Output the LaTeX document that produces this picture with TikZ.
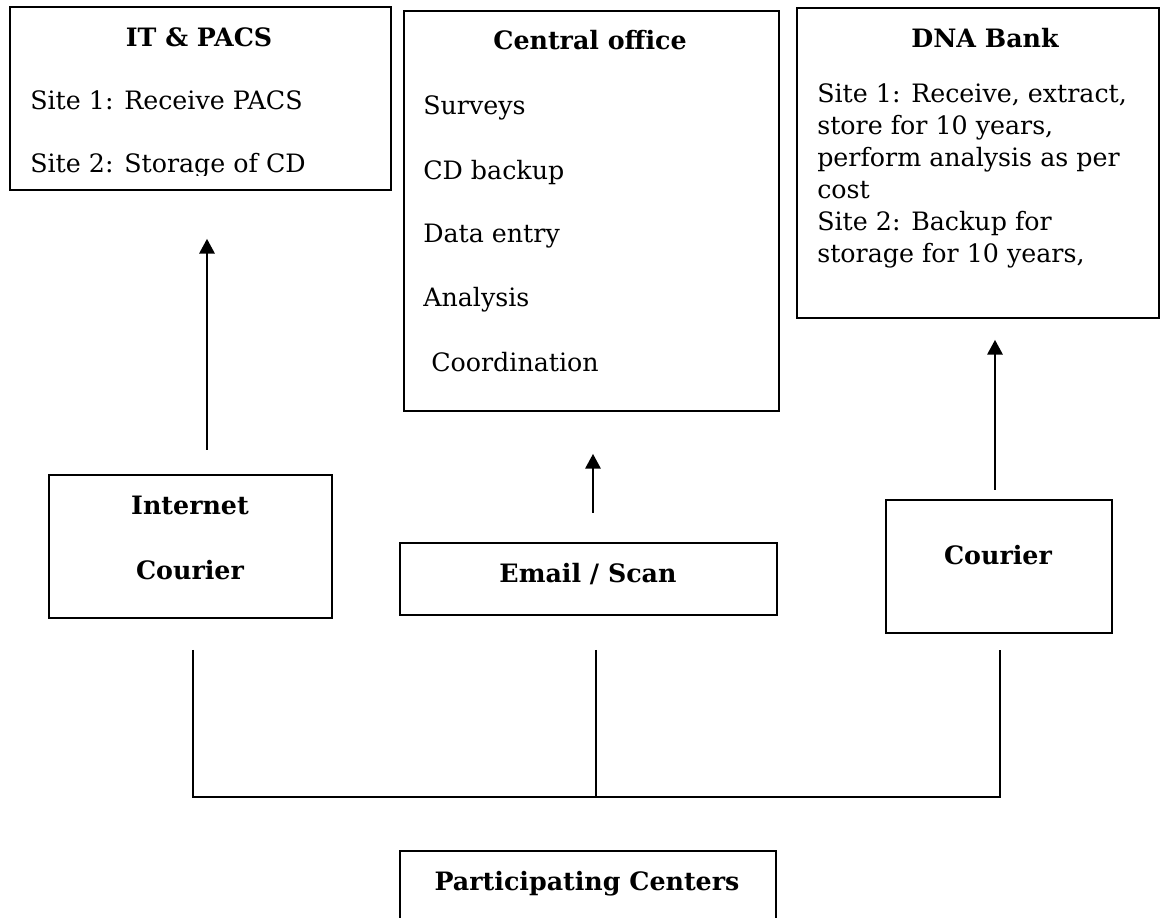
\documentclass[tikz,border=0pt]{standalone}
\usepackage{fontspec}
\setmainfont{DejaVu Serif}
\usetikzlibrary{arrows.meta}
\newcommand{\px}{0.7113pt}
\tikzset{
	box/.style={draw, line width=1.3pt, rectangle, inner sep=0pt, anchor=north west},
	txt/.style={inner sep=0pt, anchor=base west, font=\fontsize{18}{22}\selectfont},
	ttl/.style={inner sep=0pt, anchor=base, font=\fontsize{18}{22}\selectfont\bfseries},
	arr/.style={line width=1.3pt, -{Triangle[length=10.5pt,width=11pt]}},
	wire/.style={line width=1.3pt}
}

\begin{document}
\begin{tikzpicture}[x=0.025cm, y=-0.025cm]
		%%%%% START %%%%%
		\useasboundingbox (0,0) rectangle (1160,918);
		\clip (0,0) rectangle (1160,918);
		
		\node[box, minimum width=381*\px, minimum height=183*\px] (itpacs) at (9,6) {};
		\node[ttl] (itT) at (199,47) {IT \& PACS};
		\node[txt] (it1) at (30,110) {Site 1: Receive PACS};
		\begin{scope}
			\clip (0,0) rectangle (1160,176);
			\node[txt] (it2) at (30,173) {Site 2: Storage of CD};
		\end{scope}
		
		\node[box, minimum width=375*\px, minimum height=400*\px] (central) at (403,10) {};
		\node[ttl] (cenT) at (590,50) {Central office};
		\node[txt] (cen1) at (423,115) {Surveys};
		\node[txt] (cen2) at (423,180) {CD backup};
		\node[txt] (cen3) at (423,243) {Data entry};
		\node[txt] (cen4) at (423,307) {Analysis};
		\node[txt] (cen5) at (431,372) {Coordination};
		
		\node[box, minimum width=362*\px, minimum height=310*\px] (dna) at (796,7) {};
		\node[ttl] (dnaT) at (985,48) {DNA Bank};
		\node[txt] (dna1) at (817,103) {Site 1: Receive, extract,};
		\node[txt] (dna2) at (817,135) {store for 10 years,};
		\node[txt] (dna3) at (817,167) {perform analysis as per};
		\node[txt] (dna4) at (817,199) {cost};
		\node[txt] (dna5) at (817,231) {Site 2: Backup for};
		\node[txt] (dna6) at (817,263) {storage for 10 years,};
		
		\node[box, minimum width=283*\px, minimum height=143*\px] (inet) at (48,474) {};
		\node[ttl] (inetT) at (190,515) {Internet};
		\node[ttl] (inetC) at (190,580) {Courier};
		
		\node[box, minimum width=377*\px, minimum height=72*\px] (email) at (399,542) {};
		\node[ttl] (emailT) at (588,583) {Email / Scan};
		
		\node[box, minimum width=226*\px, minimum height=133*\px] (courier) at (885,499) {};
		\node[ttl] (courT) at (998,565) {Courier};
		
		\node[box, minimum width=376*\px, minimum height=120*\px] (centers) at (399,850) {};
		\node[ttl] (centT) at (587,890) {Participating Centers};
		
		% arrows up
		\coordinate (colA) at (207,0);
		\coordinate (colB) at (593,0);
		\coordinate (colC) at (995,0);
		\draw[arr, shorten <=24*\px, shorten >=48*\px] (inet.north -| colA) -- (itpacs.south -| colA);
		\draw[arr, shorten <=29*\px, shorten >=42*\px] (email.north -| colB) -- (central.south -| colB);
		\draw[arr, shorten <=9*\px, shorten >=21*\px] (courier.north -| colC) -- (dna.south -| colC);
		
		% lines down to the centers
		\coordinate (busL) at (193,797);
		\coordinate (busM) at (596,797);
		\coordinate (busR) at (1000,797);
		\draw[wire, shorten <=31*\px, shorten >=16*\px] (busL |- inet.south) -- (busL) -- (busR) -- (busR |- courier.south);
		\draw[wire, shorten <=34*\px] (busM |- email.south) -- (busM);
		%%%%% END %%%%%
\end{tikzpicture}
\end{document}
